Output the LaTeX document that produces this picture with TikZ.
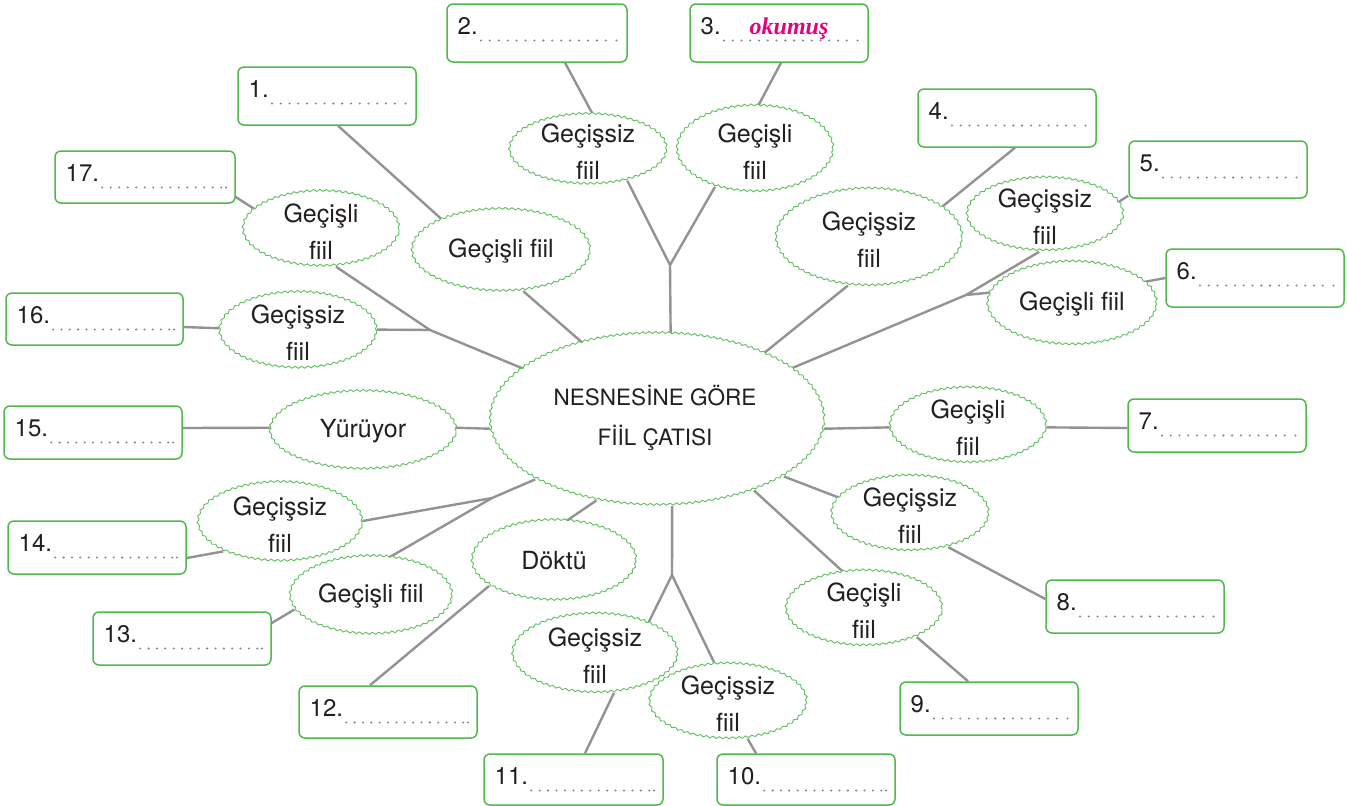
\documentclass[tikz,border=0pt]{standalone}
\usepackage{fontspec}
\setmainfont{TeX Gyre Heros}
\newfontfamily\okfont{Liberation Serif}
\usetikzlibrary{shapes.geometric,decorations.pathmorphing,decorations.markings,backgrounds}
\definecolor{bgreen}{RGB}{80,185,75}
\definecolor{egreen}{RGB}{95,192,95}
\definecolor{lgray}{RGB}{147,147,147}
\definecolor{dgray}{RGB}{135,135,135}
\definecolor{okpink}{RGB}{229,0,125}
\definecolor{txt}{RGB}{35,31,32}
\tikzset{
 wav/.style={ellipse, draw=egreen, line width=0.9pt, fill=white, inner sep=0pt,
   decorate, decoration={snake, segment length=6.5pt, amplitude=1pt}},
 etext/.style={align=center, font=\fontsize{25}{37}\selectfont, text=txt, inner sep=0pt},
 abox/.style={draw=bgreen, line width=1.5pt, rounded corners=6pt, fill=white, inner sep=0pt},
 num/.style={font=\fontsize{24}{28}\selectfont, text=txt, inner sep=0pt, anchor=base west},
 conn/.style={draw=lgray, line width=2.4pt},
 dotrow/.style={decorate, decoration={markings,
   mark=between positions 0 and 1 step #1 with {\fill[dgray] (0,0) circle (1.15pt);}}},
}
% #1 name, #2 cx, #3 cy, #4 w, #5 h, #6 label, #7 type A/B
\newcommand{\ansbox}[7]{%
 \node[abox, minimum width=#4pt, minimum height=#5pt] (#1) at (#2,#3) {};
 \pgfmathsetmacro\bL{#2-#4/2}\pgfmathsetmacro\bR{#2+#4/2}\pgfmathsetmacro\bT{#3-#5/2}
 \node[num] (#1n) at (\bL+10.5,\bT+30) {#6};
 \if A#7
  \path[dotrow=0.0713] ([xshift=3pt,yshift=-6.5pt]#1n.base east) -- (\bR-21,\bT+36.5);
  \fill[dgray] (\bR-10.5,\bT+36.5) circle (1.15pt);
 \else
  \path[dotrow=0.0713] ([xshift=3pt,yshift=-6.5pt]#1n.base east) -- (\bR-13.5,\bT+36.5);
  \fill[dgray] (\bR-9,\bT+36.5) circle (1.15pt);
 \fi
}
% #1 name, #2 cx, #3 cy, #4 w, #5 h, #6 text, #7 text yshift
\newcommand{\wavnode}[7]{%
 \node[wav, minimum width=#4pt, minimum height=#5pt] (#1) at (#2,#3) {};
 \node[etext] (#1t) at (#2,#3+#7) {#6};
}
\begin{document}
\begin{tikzpicture}[x=1pt,y=-1pt]
\useasboundingbox (0,0) rectangle (1347,806);

% answer boxes
\ansbox{B1}{327}{96}{178}{58}{1.}{A}
\ansbox{B2}{537}{33}{180}{58}{2.}{A}
\ansbox{B3}{779}{33}{178}{58}{3.}{A}
\ansbox{B4}{1007}{118}{178}{58}{4.}{A}
\ansbox{B5}{1218}{169.5}{178}{57}{5.}{A}
\ansbox{B6}{1255}{278}{178}{58}{6.}{A}
\ansbox{B7}{1217}{425.5}{178}{53}{7.}{A}
\ansbox{B8}{1135}{606.5}{178}{53}{8.}{A}
\ansbox{B9}{989}{708.5}{178}{53}{9.}{A}
\ansbox{B10}{806}{779.5}{178}{51}{10.}{B}
\ansbox{B11}{573.5}{779.5}{179}{51}{11.}{B}
\ansbox{B12}{388}{712}{178}{52}{12.}{B}
\ansbox{B13}{182}{638.5}{178}{53}{13.}{B}
\ansbox{B14}{97}{547.5}{178}{53}{14.}{B}
\ansbox{B15}{93}{432.5}{178}{53}{15.}{B}
\ansbox{B16}{94.5}{319}{177}{52}{16.}{B}
\ansbox{B17}{145}{177}{180}{52}{17.}{B}
\node[font=\okfont\bfseries\itshape\fontsize{24}{28}\selectfont, text=okpink, anchor=base, inner sep=0pt] (ok) at (789,34) {okumuş};

% ellipses
\node[wav, minimum width=334pt, minimum height=172pt] (C) at (657,420) {};
\node[etext, font=\fontsize{22.5}{40}\selectfont] (Ct) at (655,418) {NESNESİNE GÖRE\\FİİL ÇATISI};
\wavnode{E2}{588}{150}{157}{70}{Geçişsiz\\fiil}{2}
\wavnode{E3}{755}{149.5}{156}{86}{Geçişli\\fiil}{2}
\wavnode{E1}{501}{251}{178}{82}{Geçişli fiil}{0}
\wavnode{E17}{321}{229.5}{156}{75}{Geçişli\\fiil}{2}
\wavnode{E16}{298}{331}{157}{76}{Geçişsiz\\fiil}{2}
\wavnode{E15}{363}{431}{186}{78}{Yürüyor}{0}
\wavnode{E14}{280}{522.5}{164}{79}{Geçişsiz\\fiil}{2}
\wavnode{E13}{371}{596}{162}{78}{Geçişli fiil}{0}
\wavnode{ED}{554}{561}{164}{80}{Döktü}{0}
\wavnode{E11}{595}{654}{165}{79}{Geçişsiz\\fiil}{2}
\wavnode{E10}{728}{702}{157}{75}{Geçişsiz\\fiil}{2}
\wavnode{E9}{864}{609}{156}{75}{Geçişli\\fiil}{2}
\wavnode{E8}{910}{514}{157}{75}{Geçişsiz\\fiil}{2}
\wavnode{E7}{968}{426}{156}{75}{Geçişli\\fiil}{2}
\wavnode{E6}{1072}{304}{169}{83}{Geçişli fiil}{0}
\wavnode{E5}{1045}{215}{156}{73}{Geçişsiz\\fiil}{2}
\wavnode{E4}{869}{238}{186}{97}{Geçişsiz\\fiil}{2}

\coordinate (J1) at (670,265);
\coordinate (J2) at (430,330);
\coordinate (J3) at (492,498);
\coordinate (J4) at (672,575);
\coordinate (J5) at (966,295);

\begin{scope}[on background layer]
\fill[white] (0,0) rectangle (1347,806);
\draw[conn] (C.81) -- (J1);
\draw[conn] (J1) -- (E2.-38);
\draw[conn] (J1) -- (E3.223);
\draw[conn] (E2.82) -- ([xshift=28pt]B2.south);
\draw[conn] (E3.86) -- ([xshift=2pt]B3.south);
\draw[conn] ([xshift=11pt]B1.south) -- (E1.152);
\draw[conn] (E1.-61) -- (C.134);
\draw[conn] ([yshift=-20pt]B17.east) -- (E17.163);
\draw[conn] (E17.-68) -- (J2);
\draw[conn] (J2) -- (C.159);
\draw[conn] (E16.1) -- (J2);
\draw[conn] ([yshift=-8pt]B16.east) -- (E16.178);
\draw[conn] ([yshift=4.5pt]B15.east) -- (E15.178);
\draw[conn] (E15.2) -- (C.183);
\draw[conn] (C.206) -- (J3);
\draw[conn] (J3) -- (E14.1);
\draw[conn] (J3) -- (E13.65);
\draw[conn] ([yshift=-10.5pt]B14.east) -- (E14.207);
\draw[conn] ([yshift=15.5pt]B13.east) -- (E13.190);
\draw[conn] (C.233) -- (ED.73);
\draw[conn] (ED.201) -- ([xshift=-18pt]B12.north);
\draw[conn] (C.-80) -- (J4);
\draw[conn] (J4) -- (E11.30);
\draw[conn] (J4) -- (E10.109);
\draw[conn] (E11.-64) -- ([xshift=11.5pt]B11.north);
\draw[conn] (E10.-62) -- ([xshift=-50pt]B10.north);
\draw[conn] (C.-36) -- (E9.119);
\draw[conn] (E9.-28) -- ([xshift=-21pt]B9.north);
\draw[conn] (C.-24) -- (E8.167);
\draw[conn] (E8.-41) -- ([yshift=7.5pt]B8.west);
\draw[conn] (C.-3) -- (E7.181);
\draw[conn] (E7.-1) -- ([yshift=-2.5pt]B7.west);
\draw[conn] (C.21) -- (J5);
\draw[conn] (J5) -- (E5.-99);
\draw[conn] (J5) -- (E6.172);
\draw[conn] (E5.10) -- ([yshift=3pt]B5.south west);
\draw[conn] (E6.17) -- (B6.west);
\draw[conn] (C.32) -- (E4.-114);
\draw[conn] (E4.23) -- ([xshift=8pt]B4.south);
\end{scope}
\end{tikzpicture}
\end{document}
